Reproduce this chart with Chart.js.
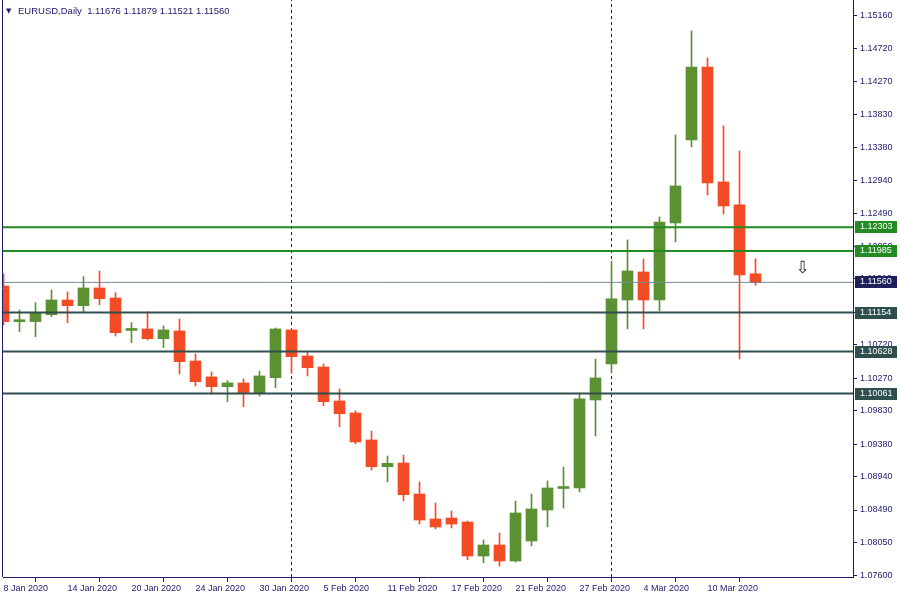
<!DOCTYPE html>
<html>
<head>
<meta charset="utf-8">
<title>EURUSD,Daily</title>
<script src="https://cdn.jsdelivr.net/npm/chart.js@4.4.0/dist/chart.umd.min.js"></script>
<style>
  html, body { margin: 0; padding: 0; background: #ffffff; }
  #wrap { width: 900px; height: 600px; }
</style>
</head>
<body>
<div id="wrap"><canvas id="eurusd" width="900" height="600"></canvas></div>
<script>
// trading days on the chart
const days = [
  '8 Jan 2020', '9 Jan 2020', '10 Jan 2020', '13 Jan 2020', '14 Jan 2020', '15 Jan 2020',
  '16 Jan 2020', '17 Jan 2020', '20 Jan 2020', '21 Jan 2020', '22 Jan 2020', '23 Jan 2020',
  '24 Jan 2020', '27 Jan 2020', '28 Jan 2020', '29 Jan 2020', '30 Jan 2020', '31 Jan 2020',
  '3 Feb 2020', '4 Feb 2020', '5 Feb 2020', '6 Feb 2020', '7 Feb 2020', '10 Feb 2020',
  '11 Feb 2020', '12 Feb 2020', '13 Feb 2020', '14 Feb 2020', '17 Feb 2020', '18 Feb 2020',
  '19 Feb 2020', '20 Feb 2020', '21 Feb 2020', '24 Feb 2020', '25 Feb 2020', '26 Feb 2020',
  '27 Feb 2020', '28 Feb 2020', '2 Mar 2020', '3 Mar 2020', '4 Mar 2020', '5 Mar 2020',
  '6 Mar 2020', '9 Mar 2020', '10 Mar 2020', '11 Mar 2020', '12 Mar 2020', '13 Mar 2020'
];

const open = [
  1.11512, 1.11030, 1.11031, 1.11125, 1.11323, 1.11246, 1.11485, 1.11350, 1.10912, 1.10932,
  1.10801, 1.10905, 1.10500, 1.10285, 1.10154, 1.10204, 1.10065, 1.10275, 1.10919, 1.10568,
  1.10419, 1.09961, 1.09799, 1.09435, 1.09074, 1.09124, 1.08706, 1.08369, 1.08382, 1.08328,
  1.07870, 1.08018, 1.07802, 1.08072, 1.08490, 1.08780, 1.08787, 1.09974, 1.10460, 1.11323,
  1.11701, 1.11323, 1.12362, 1.13482, 1.14466, 1.12915, 1.12605, 1.11676
];
const high = [
  1.11674, 1.11188, 1.11287, 1.11458, 1.11431, 1.11638, 1.11714, 1.11422, 1.11017, 1.11165,
  1.10973, 1.11067, 1.10595, 1.10352, 1.10235, 1.10258, 1.10365, 1.10946, 1.10930, 1.10622,
  1.10460, 1.10123, 1.09830, 1.09556, 1.09219, 1.09232, 1.08868, 1.08585, 1.08477, 1.08342,
  1.08086, 1.08180, 1.08612, 1.08706, 1.08882, 1.09070, 1.10069, 1.10527, 1.11849, 1.12133,
  1.11876, 1.12443, 1.13549, 1.14952, 1.14588, 1.13671, 1.13333, 1.11879
];
const low = [
  1.10986, 1.10896, 1.10828, 1.11098, 1.11017, 1.11157, 1.11260, 1.10838, 1.10747, 1.10784,
  1.10680, 1.10325, 1.10163, 1.10055, 1.09951, 1.09884, 1.10028, 1.10140, 1.10334, 1.10298,
  1.09897, 1.09614, 1.09381, 1.09030, 1.08868, 1.08612, 1.08301, 1.08234, 1.08248, 1.07820,
  1.07779, 1.07735, 1.07789, 1.08005, 1.08261, 1.08517, 1.08733, 1.09489, 1.10338, 1.10932,
  1.10932, 1.11175, 1.12106, 1.13387, 1.12740, 1.12483, 1.10527, 1.11521
];
const close = [
  1.11031, 1.11040, 1.11152, 1.11323, 1.11246, 1.11485, 1.11341, 1.10882, 1.10919, 1.10801,
  1.10919, 1.10491, 1.10221, 1.10154, 1.10204, 1.10065, 1.10298, 1.10932, 1.10558, 1.10410,
  1.09951, 1.09789, 1.09408, 1.09074, 1.09120, 1.08697, 1.08355, 1.08261, 1.08301, 1.07870,
  1.08018, 1.07802, 1.08450, 1.08504, 1.08787, 1.08787, 1.09988, 1.10271, 1.11337, 1.11714,
  1.11323, 1.12375, 1.12861, 1.14466, 1.12902, 1.12591, 1.11660, 1.11560
];

// price axis ticks
const yTicks = [
  1.07600, 1.08050, 1.08490, 1.08940, 1.09380, 1.09830, 1.10270, 1.10720, 1.11160,
  1.11610, 1.12050, 1.12490, 1.12940, 1.13380, 1.13830, 1.14270, 1.14720, 1.15160
];

// horizontal levels and current price
const levels = [1.12303, 1.11985, 1.11154, 1.10628, 1.10061];
const levelKind = ['green', 'green', 'slate', 'slate', 'slate'];
const bidPrice = 1.11560;

// period separators (first bar of Feb and Mar)
const separators = [18, 38];

// down arrow object
const arrowAt = { x: 49.94, y: 1.11745 };

const header = 'EURUSD,Daily  1.11676 1.11879 1.11521 1.11560';

const FONT = '"Liberation Sans", Arial, sans-serif';
const NAVY = '#1b1b6e';
const BULL = '#5b9132';
const BEAR = '#f34c25';
const LEVEL = { green: '#228b22', slate: '#2f4f4f' };
const BID_LINE = '#778899';
const BID_TAG = '#1f1f5e';

// axis windows (16 px per bar, 850 px wide plot)
const xMin = -1 / 32;
const xMax = xMin + 850 / 16;
const yMin = 1.075865;
const yMax = 1.153691;

const candleColors = open.map((o, i) => (close[i] >= o ? BULL : BEAR));

const datasets = [];

separators.forEach(s => {
  datasets.push({
    type: 'line',
    data: [{ x: s, y: yMin }, { x: s, y: yMax }],
    borderColor: NAVY,
    borderWidth: 1,
    borderDash: [3, 3],
    pointRadius: 0,
    fill: false,
    clip: 0,
    order: 4
  });
});

datasets.push({
  type: 'bar',
  label: 'wick',
  data: days.map((d, i) => ({ x: i, y: [low[i], high[i]] })),
  backgroundColor: candleColors,
  borderWidth: 0,
  barThickness: 1,
  grouped: false,
  clip: 0,
  order: 3
});

datasets.push({
  type: 'bar',
  label: 'body',
  data: days.map((d, i) => ({ x: i, y: [open[i], close[i]] })),
  backgroundColor: candleColors,
  borderWidth: 0,
  barThickness: 11,
  minBarLength: 2,
  grouped: false,
  clip: 0,
  order: 2
});

levels.forEach((v, i) => {
  datasets.push({
    type: 'line',
    data: [{ x: xMin, y: v }, { x: xMax, y: v }],
    borderColor: LEVEL[levelKind[i]],
    borderWidth: 2,
    pointRadius: 0,
    fill: false,
    clip: 0,
    order: 1
  });
});

datasets.push({
  type: 'line',
  data: [{ x: xMin, y: bidPrice }, { x: xMax, y: bidPrice }],
  borderColor: BID_LINE,
  borderWidth: 1,
  pointRadius: 0,
  fill: false,
  clip: 0,
  order: 1
});

const overlay = {
  id: 'overlay',
  beforeDatasetsDraw(chart) {
    const { ctx, chartArea } = chart;
    ctx.save();
    ctx.strokeStyle = NAVY;
    ctx.lineWidth = 1;
    ctx.beginPath();
    ctx.moveTo(chartArea.left - 0.5, 0);
    ctx.lineTo(chartArea.left - 0.5, chartArea.bottom);
    ctx.stroke();
    ctx.restore();
  },
  afterDraw(chart) {
    const { ctx, chartArea, scales } = chart;
    const y = scales.y, x = scales.x;
    ctx.save();

    // price tags on the axis
    ctx.font = '9px ' + FONT;
    ctx.textBaseline = 'middle';
    ctx.textAlign = 'left';
    const tags = levels.map((v, i) => ({ v: v, c: LEVEL[levelKind[i]] }));
    tags.push({ v: bidPrice, c: BID_TAG });
    tags.forEach(t => {
      const py = Math.round(y.getPixelForValue(t.v));
      ctx.fillStyle = t.c;
      ctx.fillRect(chartArea.right + 2, py - 6, 42, 12);
      ctx.fillStyle = '#ffffff';
      ctx.fillText(t.v.toFixed(5), chartArea.right + 7, py);
    });

    // header line
    ctx.fillStyle = NAVY;
    ctx.font = '7px "DejaVu Sans", sans-serif';
    ctx.fillText('\u25BC', 6, 11);
    ctx.font = '9.5px ' + FONT;
    ctx.fillText(header, 18, 11);

    // arrow object
    ctx.font = '17px "DejaVu Sans", sans-serif';
    ctx.textAlign = 'center';
    ctx.fillStyle = '#2a2a2a';
    ctx.fillText('\u21E9', x.getPixelForValue(arrowAt.x), y.getPixelForValue(arrowAt.y));

    ctx.restore();
  }
};

// keep the plot edges fixed: no extra room for edge labels
function noEdgePadding(axis) {
  axis.paddingTop = 0;
  axis.paddingBottom = 0;
  axis.paddingLeft = 0;
  axis.paddingRight = 0;
}

new Chart(document.getElementById('eurusd').getContext('2d'), {
  type: 'bar',
  data: { datasets: datasets },
  options: {
    responsive: false,
    animation: false,
    events: [],
    layout: { padding: { left: 3, top: 0, right: 0, bottom: 0 } },
    plugins: {
      legend: { display: false },
      tooltip: { enabled: false },
      title: { display: false }
    },
    scales: {
      x: {
        type: 'linear',
        min: xMin,
        max: xMax,
        offset: false,
        afterBuildTicks: axis => {
          axis.ticks = days.map((d, i) => i).filter(i => i % 4 === 0).map(i => ({ value: i }));
        },
        afterFit: axis => { axis.height = 23; noEdgePadding(axis); },
        grid: { drawOnChartArea: false, drawTicks: true, tickLength: 5, tickColor: NAVY },
        border: { display: true, color: NAVY, width: 1 },
        ticks: {
          color: NAVY,
          font: { family: FONT, size: 9 },
          padding: 1,
          autoSkip: false,
          maxRotation: 0,
          align: 'start',
          callback: v => days[v]
        }
      },
      y: {
        type: 'linear',
        position: 'right',
        min: yMin,
        max: yMax,
        beginAtZero: false,
        afterBuildTicks: axis => {
          axis.ticks = yTicks.map(v => ({ value: v }));
        },
        afterFit: axis => { axis.width = 47; noEdgePadding(axis); },
        grid: { drawOnChartArea: false, drawTicks: true, tickLength: 4, tickColor: NAVY },
        border: { display: true, color: NAVY, width: 1 },
        ticks: {
          color: NAVY,
          font: { family: FONT, size: 9 },
          padding: 3,
          autoSkip: false,
          callback: v => v.toFixed(5)
        }
      }
    }
  },
  plugins: [overlay]
});
</script>
</body>
</html>
